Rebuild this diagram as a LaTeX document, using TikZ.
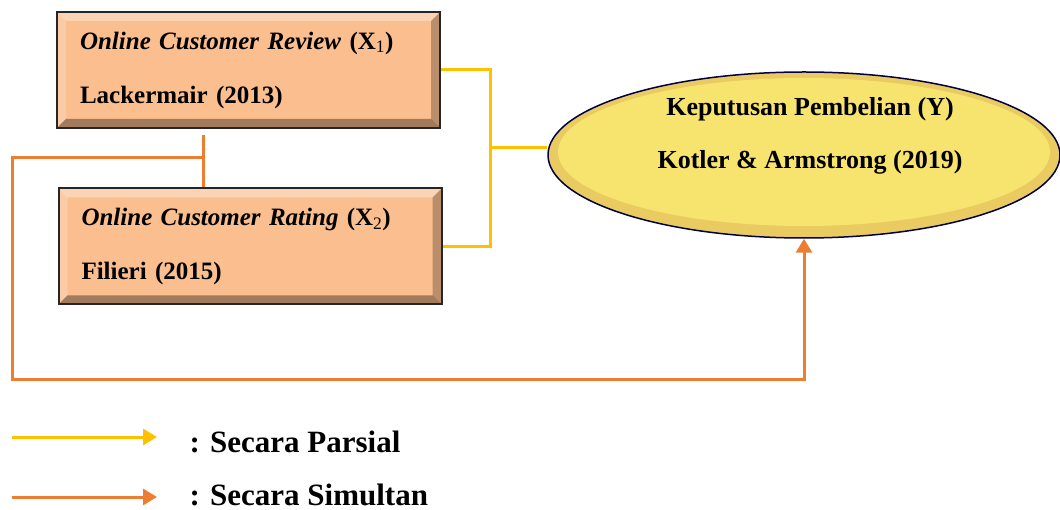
\documentclass[tikz,border=0pt]{standalone}
\usepackage{fontspec}
\setmainfont{Liberation Serif}
\usetikzlibrary{arrows.meta,shapes.geometric}
\definecolor{peach}{RGB}{250,190,143}
\definecolor{kuning}{RGB}{247,228,110}
\definecolor{garisk}{RGB}{255,192,0}
\definecolor{gariso}{RGB}{237,125,49}
\tikzset{
    kotak/.style = {draw = black!85, line width = 2pt, fill = peach, minimum width = 383pt,
        minimum height = 116pt, text width = 337pt, inner xsep = 23pt, align = left,
        font = \fontsize{25}{54}\selectfont\bfseries,
        path picture = {
            \fill[white, opacity = 0.35] (path picture bounding box.north west) -- (path picture bounding box.north east)
                -- ([shift = {(-9pt,-9pt)}]path picture bounding box.north east) -- ([shift = {(9pt,-9pt)}]path picture bounding box.north west) -- cycle;
            \fill[white, opacity = 0.2] (path picture bounding box.north west) -- (path picture bounding box.south west)
                -- ([shift = {(9pt,9pt)}]path picture bounding box.south west) -- ([shift = {(9pt,-9pt)}]path picture bounding box.north west) -- cycle;
            \fill[black, opacity = 0.35] (path picture bounding box.south west) -- (path picture bounding box.south east)
                -- ([shift = {(-9pt,9pt)}]path picture bounding box.south east) -- ([shift = {(9pt,9pt)}]path picture bounding box.south west) -- cycle;
            \fill[black, opacity = 0.25] (path picture bounding box.north east) -- (path picture bounding box.south east)
                -- ([shift = {(-9pt,9pt)}]path picture bounding box.south east) -- ([shift = {(-9pt,-9pt)}]path picture bounding box.north east) -- cycle;
        }},
    bulat/.style = {ellipse, draw = blue!25!black, line width = 1.5pt, fill = kuning!75!brown,
        minimum width = 512pt, minimum height = 166pt,
        path picture = {
            \fill[kuning] ([yshift = 3pt]path picture bounding box.center) ellipse[x radius = 246pt, y radius = 74pt];
        }},
    teks/.style = {align = center, font = \fontsize{26}{53}\selectfont\bfseries},
    kuningln/.style = {draw = garisk, line width = 3pt},
    oranyeln/.style = {draw = gariso, line width = 3pt},
    panah/.style = {-{Triangle[length = 14pt, width = 16pt]}}
}
\begin{document}
\begin{tikzpicture}[x = 1pt, y = -1pt]
    \useasboundingbox (0,0) rectangle (1060,510);
    \node[kotak] (box1) at (248.5,70) {\textit{Online Customer Review} (X\textsubscript{\mdseries 1})\\Lackermair (2013)};
    \node[kotak] (box2) at (250,246.5) {\textit{Online Customer Rating} (X\textsubscript{\mdseries 2})\\Filieri (2015)};
    \node[bulat] (kp) at (804,155) {};
    \node[teks] (kptxt) at (810,136) {Keputusan Pembelian (Y)\\Kotler \& Armstrong (2019)};
    \coordinate (jn) at (490,148);
    \coordinate (sj) at (203,158);
    \coordinate (kiri) at (12,380);
    \begin{scope}[style = kuningln]
        \draw (box1.east) -| (jn) |- (box2.east);
        \draw (jn) -- (jn -| kp.west);
    \end{scope}
    \begin{scope}[style = oranyeln]
        \draw ([yshift = -6pt]box1.south -| sj) -- (box2.north -| sj);
        \draw[style = panah] (sj) -| (kiri) -| (kp.south);
    \end{scope}
    \coordinate (lk1) at (12,437);
    \coordinate (lk2) at (157,437);
    \coordinate (lo1) at (12,497);
    \coordinate (lo2) at (157,497);
    \draw[style = kuningln, style = panah] (lk1) -- (lk2);
    \draw[style = oranyeln, style = panah] (lo1) -- (lo2);
    \node[anchor = base west, font = \fontsize{31}{36}\selectfont\bfseries] (parsial) at (186,452) {: Secara Parsial};
    \node[anchor = base west, font = \fontsize{31}{36}\selectfont\bfseries] (simultan) at (186,505) {: Secara Simultan};
\end{tikzpicture}
\end{document}
